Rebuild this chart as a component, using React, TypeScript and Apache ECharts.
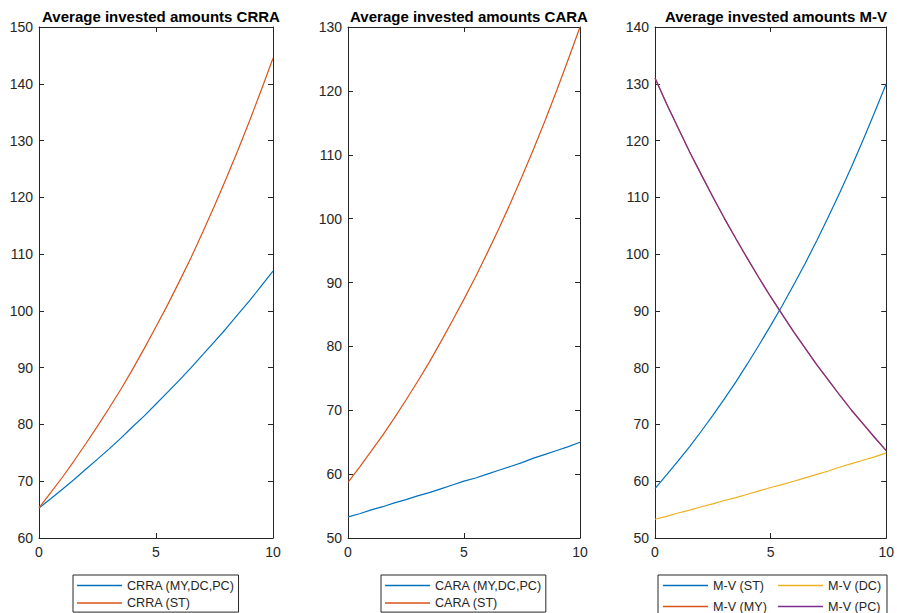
import React, { useEffect, useRef } from "react";
import * as echarts from "echarts";

const X = [0, 0.5, 1, 1.5, 2, 2.5, 3, 3.5, 4, 4.5, 5, 5.5, 6, 6.5, 7, 7.5, 8, 8.5, 9, 9.5, 10];

const crraMyDcPc = [65.3, 66.9, 68.6, 70.3, 72.1, 73.9, 75.7, 77.6, 79.6, 81.5, 83.6, 85.7, 87.8, 90.0, 92.3, 94.6, 96.9, 99.4, 101.8, 104.4, 107.0];
const crraSt = [65.3, 68.0, 70.7, 73.6, 76.6, 79.7, 82.9, 86.2, 89.7, 93.4, 97.2, 101.1, 105.2, 109.4, 113.9, 118.5, 123.3, 128.3, 133.5, 138.9, 144.5];
const caraMyDcPc = [53.3, 53.8, 54.4, 54.9, 55.5, 56.0, 56.6, 57.1, 57.7, 58.3, 58.9, 59.4, 60.0, 60.6, 61.2, 61.8, 62.5, 63.1, 63.7, 64.3, 65.0];
const caraSt = [58.7, 61.1, 63.6, 66.1, 68.8, 71.6, 74.5, 77.5, 80.7, 84.0, 87.4, 90.9, 94.6, 98.4, 102.4, 106.6, 110.9, 115.4, 120.1, 125.0, 130.0];
const mvSt = [58.7, 61.1, 63.6, 66.1, 68.8, 71.6, 74.5, 77.5, 80.7, 84.0, 87.4, 90.9, 94.6, 98.4, 102.4, 106.6, 110.9, 115.4, 120.1, 125.0, 130.0];
const mvMy = [131.0, 126.5, 122.2, 118.0, 114.0, 110.1, 106.3, 102.7, 99.2, 95.8, 92.5, 89.4, 86.3, 83.4, 80.5, 77.8, 75.1, 72.5, 70.1, 67.7, 65.4];
const mvDc = [53.3, 53.8, 54.4, 54.9, 55.5, 56.0, 56.6, 57.1, 57.7, 58.3, 58.9, 59.4, 60.0, 60.6, 61.2, 61.8, 62.5, 63.1, 63.7, 64.3, 65.0];
const mvPc = [131.0, 126.5, 122.2, 118.0, 114.0, 110.1, 106.3, 102.7, 99.2, 95.8, 92.5, 89.4, 86.3, 83.4, 80.5, 77.8, 75.1, 72.5, 70.1, 67.7, 65.4];

const titles = ["Average invested amounts CRRA", "Average invested amounts CARA", "Average invested amounts M-V"];
const yRanges = [[60, 150], [50, 130], [50, 140]];
const xRange = [0, 10];

const BLUE = "#0072BD";
const ORANGE = "#D95319";
const YELLOW = "#EDB120";
const PURPLE = "#7E2F8E";
const AX = "#262626";
const FONT = "'Liberation Sans', Arial, Helvetica, sans-serif";
const LINE_ICON = "path://M0,0 H45 V1.5 H0 Z";

const grids = [
  { left: 39, top: 27, width: 234, height: 511 },
  { left: 348, top: 27, width: 232, height: 511 },
  { left: 655, top: 27, width: 232, height: 511 },
];

function pts(vals: number[]) {
  return X.map((x, i) => [x, vals[i]]);
}

export default function App() {
  const ref = useRef<HTMLDivElement>(null);
  useEffect(() => {
    if (!ref.current) return;
    const chart = echarts.init(ref.current, null, { renderer: "svg" });
    const xAxis: any[] = [];
    const yAxis: any[] = [];
    grids.forEach((g, i) => {
      const base = {
        type: "value",
        gridIndex: i,
        axisLine: { show: true, onZero: false, lineStyle: { color: AX, width: 1 } },
        axisTick: { show: true, inside: true, length: 5, lineStyle: { color: AX } },
        splitLine: { show: false },
      };
      xAxis.push({
        ...base,
        position: "bottom",
        min: xRange[0],
        max: xRange[1],
        interval: 5,
        axisLabel: { show: true, color: AX, fontSize: 14, fontFamily: FONT, margin: 7 },
      });
      xAxis.push({
        ...base,
        position: "top",
        min: xRange[0],
        max: xRange[1],
        interval: 5,
        axisLabel: { show: false },
      });
      yAxis.push({
        ...base,
        position: "left",
        min: yRanges[i][0],
        max: yRanges[i][1],
        interval: 10,
        axisLabel: { show: true, color: AX, fontSize: 14, fontFamily: FONT, margin: 6 },
      });
      yAxis.push({
        ...base,
        position: "right",
        min: yRanges[i][0],
        max: yRanges[i][1],
        interval: 10,
        axisLabel: { show: false },
      });
    });

    const mk = (name: string, vals: number[], color: string, gi: number) => ({
      name,
      type: "line",
      data: pts(vals),
      xAxisIndex: gi * 2,
      yAxisIndex: gi * 2,
      symbol: "none",
      showSymbol: false,
      lineStyle: { color, width: 1.2 },
      itemStyle: { color },
      animation: false,
    });

    const legendBase = {
      orient: "vertical",
      top: 575,
      itemWidth: 45,
      itemHeight: 14,
      itemGap: 3.6,
      icon: LINE_ICON,
      borderColor: AX,
      borderWidth: 1,
      backgroundColor: "#fff",
      padding: [3.5, 4, 2, 4],
      textStyle: { fontSize: 12.6, fontFamily: FONT, color: AX, lineHeight: 14 },
      selectedMode: false,
    };

    const option: any = {
      animation: false,
      backgroundColor: "#fff",
      title: titles.map((t, i) => ({
        text: t,
        left: grids[i].left + grids[i].width / 2,
        top: 4,
        textAlign: "center",
        textStyle: { fontSize: 15, fontWeight: "bold", fontFamily: FONT, color: "#000" },
      })),
      grid: grids.map((g) => ({ ...g, containLabel: false })),
      xAxis,
      yAxis,
      legend: [
        { ...legendBase, left: 73, data: ["CRRA (MY,DC,PC)", "CRRA (ST)"] },
        { ...legendBase, left: 381, data: ["CARA (MY,DC,PC)", "CARA (ST)"] },
        {
          ...legendBase,
          orient: "horizontal",
          left: 658,
          width: 230,
          itemGap: 7,
          padding: [3.5, 1, 2, 5],
          textStyle: { ...legendBase.textStyle, width: 58 },
          data: ["M-V (ST)", "M-V (DC)", "M-V (MY)", "M-V (PC)"],
        },
      ],
      series: [
        mk("CRRA (MY,DC,PC)", crraMyDcPc, BLUE, 0),
        mk("CRRA (ST)", crraSt, ORANGE, 0),
        mk("CARA (MY,DC,PC)", caraMyDcPc, BLUE, 1),
        mk("CARA (ST)", caraSt, ORANGE, 1),
        mk("M-V (ST)", mvSt, BLUE, 2),
        mk("M-V (MY)", mvMy, ORANGE, 2),
        mk("M-V (DC)", mvDc, YELLOW, 2),
        mk("M-V (PC)", mvPc, PURPLE, 2),
      ],
    };
    chart.setOption(option);
    return () => chart.dispose();
  }, []);
  return (
    <div
      ref={ref}
      style={{ position: "absolute", left: 0, top: 0, width: 897, height: 613 }}
    />
  );
}
